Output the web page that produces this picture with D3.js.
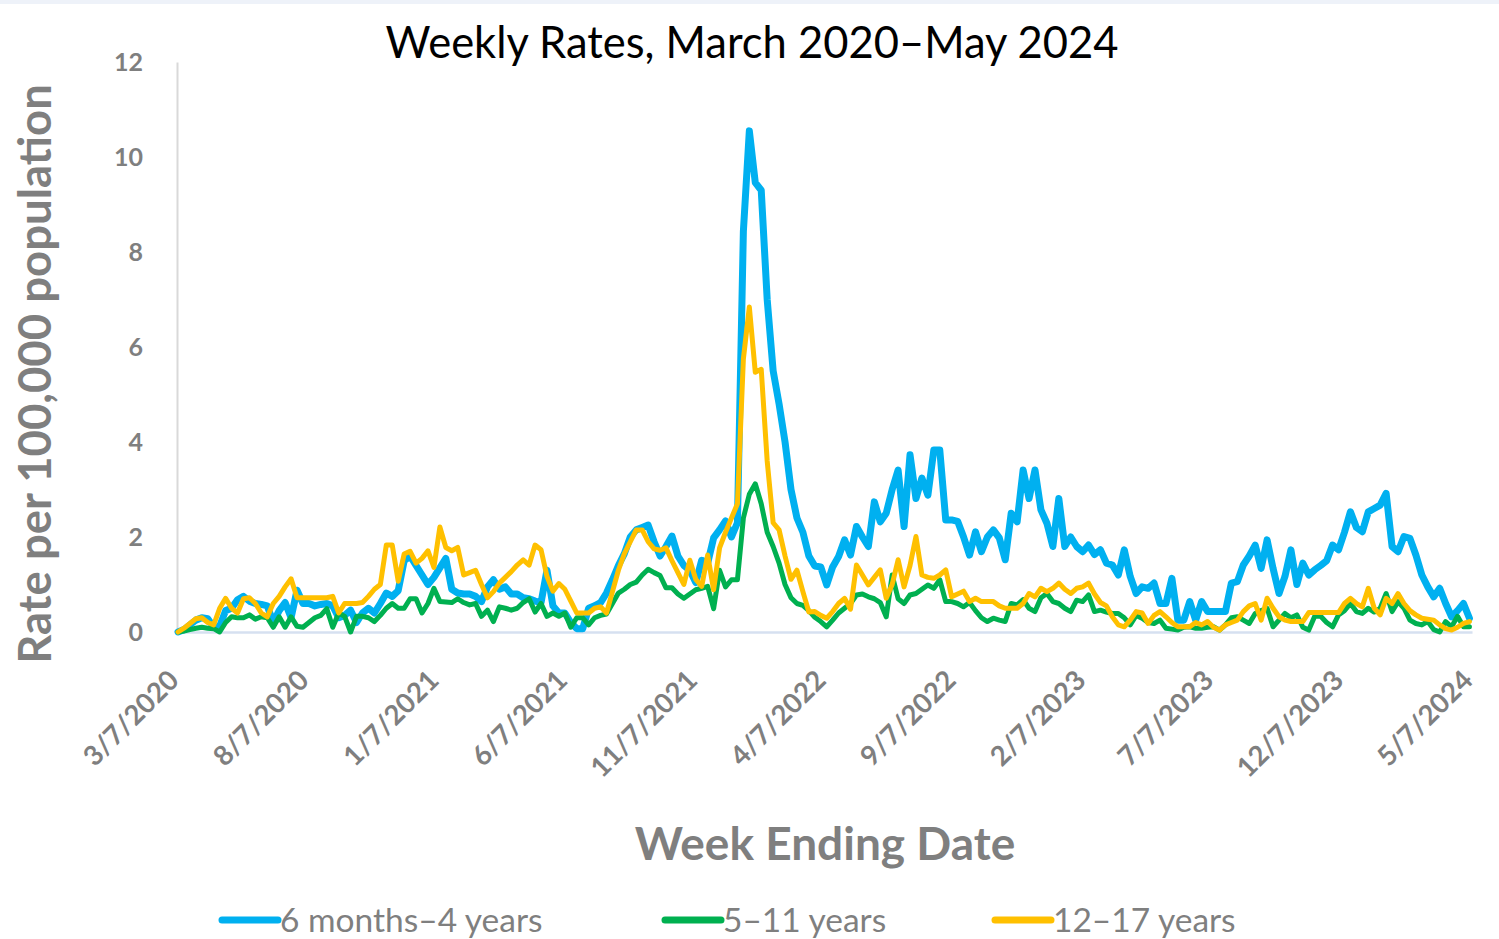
<!DOCTYPE html>
<html>
<head>
<meta charset="utf-8">
<script src="https://cdn.jsdelivr.net/npm/d3@7"></script>
<style>
  html, body { margin: 0; padding: 0; background: #fff; }
  svg { display: block; }
</style>
</head>
<body>
<div id="chart"></div>
<script>
// First week ending date, then one value per week
const firstWeek = "3/7/2020";
const axisEnd = "5/7/2024";
const tickLabels = ["3/7/2020", "8/7/2020", "1/7/2021", "6/7/2021", "11/7/2021",
  "4/7/2022", "9/7/2022", "2/7/2023", "7/7/2023", "12/7/2023", "5/7/2024"];
const yTicks = [0, 2, 4, 6, 8, 10, 12];
const seriesNames = ["6 months\u20134 years", "5\u201311 years", "12\u201317 years"];

const infantRates = [
  0.0, 0.05, 0.15, 0.25, 0.3, 0.28, 0.1, 0.12, 0.45, 0.5,
  0.68, 0.75, 0.65, 0.6, 0.58, 0.55, 0.2, 0.45, 0.62, 0.3,
  0.88, 0.6, 0.6, 0.55, 0.58, 0.6, 0.55, 0.3, 0.35, 0.46,
  0.2, 0.4, 0.5, 0.4, 0.6, 0.82, 0.75, 0.87, 1.5, 1.6,
  1.4, 1.2, 1.0, 1.15, 1.35, 1.55, 0.9, 0.82, 0.8, 0.8,
  0.75, 0.64, 0.95, 1.1, 0.9, 0.95, 0.8, 0.8, 0.72, 0.7,
  0.65, 0.62, 1.3, 0.55, 0.4, 0.4, 0.2, 0.07, 0.07, 0.5,
  0.55, 0.62, 0.82, 1.1, 1.4, 1.65, 2.0, 2.15, 2.2, 2.25,
  1.9, 1.6, 1.8, 2.02, 1.6, 1.4, 1.3, 1.04, 1.51, 1.45,
  1.98, 2.15, 2.34, 2.0, 2.3, 8.44, 10.55, 9.46, 9.3, 7.0,
  5.5, 4.8, 4.0, 3.0, 2.4, 2.1, 1.6, 1.39, 1.37, 0.99,
  1.37, 1.59, 1.94, 1.62, 2.22, 2.0, 1.8, 2.74, 2.32, 2.5,
  3.0, 3.41, 2.22, 3.73, 2.81, 3.24, 2.88, 3.83, 3.83, 2.36,
  2.36, 2.33, 2.0, 1.62, 2.11, 1.69, 2.0, 2.15, 1.98, 1.52,
  2.5, 2.32, 3.41, 2.81, 3.41, 2.57, 2.29, 1.8, 2.81, 1.8,
  2.0, 1.8, 1.69, 1.83, 1.63, 1.73, 1.45, 1.41, 1.2, 1.73,
  1.17, 0.81, 0.95, 0.92, 1.03, 0.6, 0.6, 1.13, 0.25, 0.25,
  0.64, 0.25, 0.64, 0.43, 0.43, 0.43, 0.43, 1.03, 1.06, 1.41,
  1.6, 1.83, 1.34, 1.94, 1.34, 0.81, 1.17, 1.73, 1.0, 1.45,
  1.2, 1.31, 1.4, 1.5, 1.83, 1.73, 2.1, 2.53, 2.2, 2.11,
  2.53, 2.6, 2.67, 2.92, 1.8, 1.69, 2.01, 1.97, 1.62, 1.2,
  0.95, 0.74, 0.92, 0.6, 0.32, 0.45, 0.6, 0.29
];

const childRates = [
  0, 0.02, 0.05, 0.08, 0.1, 0.08, 0.07, 0.0, 0.2, 0.32,
  0.3, 0.3, 0.36, 0.27, 0.32, 0.3, 0.1, 0.32, 0.1, 0.32,
  0.12, 0.1, 0.2, 0.3, 0.35, 0.49, 0.1, 0.4, 0.33, 0.0,
  0.33, 0.33, 0.3, 0.22, 0.35, 0.5, 0.6, 0.5, 0.5, 0.7,
  0.7, 0.4, 0.6, 0.92, 0.64, 0.63, 0.62, 0.7, 0.62, 0.57,
  0.6, 0.33, 0.46, 0.22, 0.53, 0.5, 0.46, 0.5, 0.62, 0.7,
  0.42, 0.6, 0.33, 0.4, 0.33, 0.4, 0.1, 0.3, 0.3, 0.15,
  0.3, 0.35, 0.38, 0.6, 0.82, 0.9, 1.0, 1.05, 1.2, 1.32,
  1.25, 1.19, 0.93, 0.93, 0.8, 0.71, 0.8, 0.89, 0.92, 0.96,
  0.49, 1.3, 0.95, 1.1, 1.1, 2.4, 2.9, 3.12, 2.7, 2.1,
  1.8, 1.45, 1.0, 0.72, 0.6, 0.56, 0.45, 0.31, 0.22, 0.11,
  0.25, 0.4, 0.5, 0.6, 0.78, 0.8, 0.74, 0.7, 0.62, 0.32,
  1.2, 0.7, 0.6, 0.78, 0.81, 0.9, 0.99, 0.92, 1.1, 0.64,
  0.64, 0.6, 0.53, 0.62, 0.45, 0.3, 0.22, 0.29, 0.25, 0.22,
  0.6, 0.57, 0.68, 0.5, 0.43, 0.72, 0.81, 0.64, 0.6, 0.5,
  0.43, 0.67, 0.64, 0.78, 0.43, 0.46, 0.42, 0.39, 0.39, 0.3,
  0.15, 0.35, 0.29, 0.2, 0.18, 0.25, 0.08, 0.06, 0.04, 0.1,
  0.11, 0.08, 0.08, 0.1, 0.11, 0.04, 0.15, 0.3, 0.32, 0.25,
  0.18, 0.39, 0.45, 0.5, 0.11, 0.25, 0.39, 0.3, 0.36, 0.1,
  0.04, 0.33, 0.33, 0.2, 0.11, 0.36, 0.45, 0.6, 0.43, 0.39,
  0.5, 0.42, 0.5, 0.81, 0.43, 0.64, 0.5, 0.25, 0.18, 0.15,
  0.22, 0.05, 0.0, 0.22, 0.11, 0.33, 0.11, 0.11
];

const teenRates = [
  0.0, 0.08, 0.18, 0.28, 0.3, 0.2, 0.15, 0.5, 0.71, 0.5,
  0.4, 0.7, 0.72, 0.6, 0.4, 0.32, 0.6, 0.75, 0.95, 1.12,
  0.72, 0.72, 0.72, 0.72, 0.72, 0.72, 0.75, 0.4, 0.6, 0.6,
  0.6, 0.62, 0.75, 0.9, 1.0, 1.83, 1.83, 1.07, 1.64, 1.7,
  1.45, 1.55, 1.71, 1.36, 2.21, 1.78, 1.71, 1.78, 1.2, 1.25,
  1.3, 1.0, 0.72, 0.85, 1.03, 1.15, 1.27, 1.41, 1.52, 1.41,
  1.83, 1.73, 1.17, 0.86, 1.02, 0.9, 0.65, 0.4, 0.4, 0.4,
  0.5, 0.53, 0.4, 0.85, 1.3, 1.65, 1.9, 2.15, 2.15, 1.9,
  1.75, 1.72, 1.77, 1.5, 1.25, 1.0, 1.51, 1.11, 0.96, 1.62,
  0.89, 1.77, 2.1, 2.4, 2.7, 5.75, 6.84, 5.47, 5.53, 3.6,
  2.3, 2.15, 1.6, 1.11, 1.3, 0.85, 0.42, 0.43, 0.35, 0.29,
  0.43, 0.6, 0.71, 0.48, 1.41, 1.2, 0.99, 1.15, 1.31, 0.71,
  1.0, 1.52, 0.95, 1.4, 2.01, 1.2, 1.15, 1.13, 1.2, 1.31,
  0.74, 0.8, 0.86, 0.64, 0.71, 0.64, 0.64, 0.64, 0.55, 0.5,
  0.5, 0.5, 0.6, 0.81, 0.74, 0.92, 0.85, 0.92, 1.03, 0.9,
  0.81, 0.92, 0.95, 1.03, 0.8, 0.62, 0.55, 0.32, 0.15, 0.11,
  0.25, 0.43, 0.4, 0.18, 0.35, 0.43, 0.32, 0.2, 0.11, 0.11,
  0.11, 0.2, 0.15, 0.22, 0.1, 0.04, 0.15, 0.2, 0.25, 0.43,
  0.55, 0.6, 0.25, 0.71, 0.5, 0.32, 0.25, 0.22, 0.22, 0.22,
  0.41, 0.41, 0.41, 0.41, 0.41, 0.41, 0.6, 0.71, 0.6, 0.53,
  0.92, 0.5, 0.36, 0.71, 0.6, 0.81, 0.6, 0.45, 0.36, 0.29,
  0.27, 0.25, 0.15, 0.07, 0.04, 0.1, 0.18, 0.22
];

const colors = ["#00b0f0", "#00b050", "#ffc000"];
const widths = [7, 5, 5];
const grey = "#7f7f7f";
const font = "Lato, 'Open Sans', sans-serif";

const W = 1499, H = 939;
const parse = d3.timeParse("%m/%d/%Y");
const start = parse(firstWeek);
const weeks = infantRates.map((_, i) => d3.timeDay.offset(start, i * 7));

const series = [infantRates, childRates, teenRates].map((vals, k) => ({
  name: seriesNames[k],
  color: colors[k],
  width: widths[k],
  values: vals.map((v, i) => ({ date: weeks[i], v }))
}));

const svg = d3.select("#chart").append("svg")
  .attr("width", W).attr("height", H)
  .style("font-family", font);

svg.append("rect").attr("width", W).attr("height", 4).attr("fill", "#eef2f9");

const x = d3.scaleTime()
  .domain([start, parse(axisEnd)])
  .range([178, 1472]);
const y = d3.scaleLinear().domain([0, 12]).range([632, 62]);

// title
svg.append("text")
  .attr("x", 752).attr("y", 58)
  .attr("text-anchor", "middle")
  .style("font-size", "43.5px")
  .style("fill", "#000")
  .text("Weekly Rates, March 2020\u2013May 2024");

// y axis
const yAxis = svg.append("g")
  .attr("transform", "translate(177,0)")
  .call(d3.axisLeft(y).tickValues(yTicks).tickSize(0).tickPadding(34));
yAxis.select(".domain").attr("stroke", "#d9d9d9").attr("stroke-width", 2);
yAxis.selectAll("text")
  .style("font-family", font)
  .style("font-size", "25px")
  .style("font-weight", "bold")
  .style("fill", grey);

// x axis
const xAxis = svg.append("g")
  .attr("transform", "translate(0,632)")
  .call(d3.axisBottom(x).tickValues(tickLabels.map(parse)).tickSize(0)
    .tickFormat(d3.timeFormat("%-m/%-d/%Y")));
xAxis.select(".domain").attr("stroke", "#d6e0f0").attr("stroke-width", 2.5);
xAxis.selectAll("text")
  .attr("text-anchor", "end")
  .attr("dy", 0)
  .attr("y", 0)
  .attr("transform", "translate(2,50) rotate(-45)")
  .style("font-family", font)
  .style("font-size", "27.5px")
  .style("font-weight", "bold")
  .style("fill", grey);

// axis titles
svg.append("text")
  .attr("transform", "translate(51,374) rotate(-90)")
  .attr("text-anchor", "middle")
  .style("font-size", "45.5px")
  .style("font-weight", "bold")
  .style("fill", grey)
  .text("Rate per 100,000 population");

svg.append("text")
  .attr("x", 825).attr("y", 860)
  .attr("text-anchor", "middle")
  .style("font-size", "46px")
  .style("font-weight", "bold")
  .style("fill", grey)
  .text("Week Ending Date");

// lines
const line = d3.line().x(d => x(d.date)).y(d => y(d.v));
svg.append("g").selectAll("path")
  .data(series)
  .join("path")
  .attr("d", d => line(d.values))
  .attr("fill", "none")
  .attr("stroke", d => d.color)
  .attr("stroke-width", d => d.width)
  .attr("stroke-linejoin", "round")
  .attr("stroke-linecap", "round");

// legend
const legendX = [222, 665, 995];
const lg = svg.append("g").selectAll("g")
  .data(series)
  .join("g")
  .attr("transform", (d, i) => `translate(${legendX[i]},920)`);
lg.append("line")
  .attr("x1", 0).attr("x2", 56)
  .attr("stroke", d => d.color)
  .attr("stroke-width", 7)
  .attr("stroke-linecap", "round");
lg.append("text")
  .attr("x", 58).attr("y", 12)
  .style("font-size", "33.5px")
  .style("fill", grey)
  .text(d => d.name);
</script>
</body>
</html>
